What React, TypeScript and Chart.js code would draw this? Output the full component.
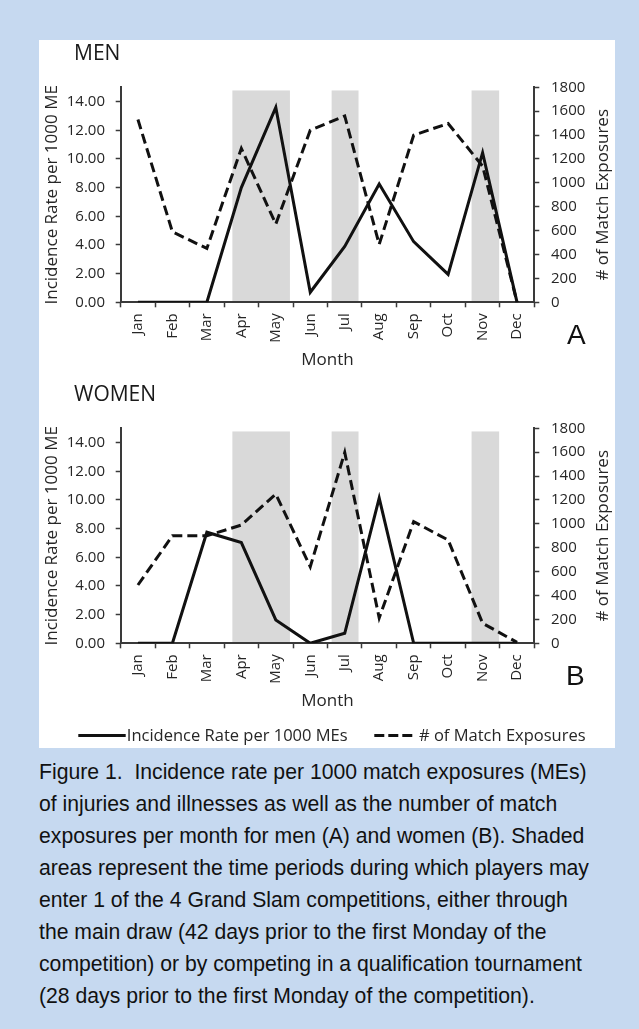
import React, { useEffect, useRef } from 'react';
import { Chart, registerables } from 'chart.js';

Chart.register(...registerables);

// ---------- data ----------
const MONTHS = ['Jan', 'Feb', 'Mar', 'Apr', 'May', 'Jun', 'Jul', 'Aug', 'Sep', 'Oct', 'Nov', 'Dec'];
const MEN_RATE = [0, 0, 0, 8.0, 13.6, 0.7, 3.9, 8.26, 4.23, 1.95, 10.44, 0];
const MEN_EXPOSURES = [1530, 590, 451, 1288, 655, 1441, 1560, 485, 1399, 1497, 1140, 0];
const WOMEN_RATE = [0, 0, 7.75, 7.03, 1.63, 0, 0.7, 10.13, 0, 0, 0, 0];
const WOMEN_EXPOSURES = [488, 900, 900, 990, 1249, 641, 1598, 212, 1018, 865, 168, 8];
const RATE_TICKS = [0, 2, 4, 6, 8, 10, 12, 14];
const EXPOSURE_TICKS = [0, 200, 400, 600, 800, 1000, 1200, 1400, 1600, 1800];
const RATE_MAX = 15;
const EXPOSURE_MAX = 1800;
// Grand Slam entry windows, in month-index units
const SHADE_START = [2.74, 5.62, 9.68];
const SHADE_END = [4.41, 6.4, 10.48];
const SHADE_TOP = 14.78;
const SERIES_LABELS = ['Incidence Rate per 1000 MEs', '# of Match Exposures'];
const LEFT_TITLE = 'Incidence Rate per 1000 ME';
const RIGHT_TITLE = '# of Match Exposures';
const X_TITLE = 'Month';

// ---------- style ----------
const FONT = "'Open Sans', 'DejaVu Sans', sans-serif";
const INK = '#262626';
const AXIS = '#3a3a3a';
const LINE = '#111111';
const SHADE = '#d9d9d9';
const BG = '#c6d9f0';

const shadePlugin = {
  id: 'shade',
  beforeDraw(chart: any) {
    const { ctx, scales } = chart;
    const x = scales.x;
    const y = scales.y;
    if (!x || !y) return;
    ctx.save();
    ctx.fillStyle = SHADE;
    const top = y.getPixelForValue(SHADE_TOP);
    const bottom = y.getPixelForValue(0);
    for (let i = 0; i < SHADE_START.length; i++) {
      const x0 = x.getPixelForValue(SHADE_START[i]);
      const x1 = x.getPixelForValue(SHADE_END[i]);
      ctx.fillRect(x0, top, x1 - x0, bottom - top);
    }
    ctx.restore();
  },
};

const rightTitlePlugin = {
  id: 'rightTitle',
  afterDraw(chart: any) {
    const { ctx, chartArea } = chart;
    ctx.save();
    ctx.translate(564.3, (chartArea.top + chartArea.bottom) / 2);
    ctx.rotate(-Math.PI / 2);
    ctx.fillStyle = INK;
    ctx.font = `17px ${FONT}`;
    ctx.textAlign = 'center';
    ctx.textBaseline = 'middle';
    ctx.fillText(RIGHT_TITLE, 0, 0);
    ctx.restore();
  },
};

const legendPlugin = {
  id: 'customLegend',
  afterDraw(chart: any) {
    const { ctx } = chart;
    const items = [
      { x0: 39.3, x1: 86.7, tx: 87.8 },
      { x0: 335.3, x1: 373.7, tx: 380.0 },
    ];
    const y = 354.5;
    ctx.save();
    chart.data.datasets.forEach((ds: any, i: number) => {
      const it = items[i];
      ctx.beginPath();
      ctx.strokeStyle = ds.borderColor;
      ctx.lineWidth = 3;
      ctx.setLineDash(ds.borderDash ? [10, 4] : []);
      ctx.moveTo(it.x0, y);
      ctx.lineTo(it.x1, y);
      ctx.stroke();
      ctx.setLineDash([]);
      ctx.fillStyle = INK;
      ctx.font = `16.5px ${FONT}`;
      ctx.textAlign = 'left';
      ctx.textBaseline = 'middle';
      ctx.fillText(ds.label, it.tx, y + 0.5);
    });
    ctx.restore();
  },
};

function makeConfig(rate: number[], exposures: number[], withLegend: boolean): any {
  const tickFont = { family: FONT, size: 15 };
  return {
    type: 'line',
    data: {
      labels: MONTHS,
      datasets: [
        {
          label: SERIES_LABELS[0],
          data: rate,
          yAxisID: 'y',
          borderColor: LINE,
          borderWidth: 3,
          pointRadius: 0,
          tension: 0,
          fill: false,
        },
        {
          label: SERIES_LABELS[1],
          data: exposures,
          yAxisID: 'y1',
          borderColor: LINE,
          borderWidth: 3,
          borderDash: [10, 5],
          pointRadius: 0,
          tension: 0,
          fill: false,
        },
      ],
    },
    options: {
      animation: false,
      responsive: true,
      maintainAspectRatio: false,
      events: [],
      layout: { padding: { top: 47.3, left: 0, right: 0, bottom: withLegend ? 27 : 0 } },
      plugins: {
        legend: { display: false },
        tooltip: { enabled: false },
        title: { display: false },
      },
      scales: {
        x: {
          type: 'category',
          offset: true,
          grid: {
            display: true,
            offset: true,
            drawOnChartArea: false,
            drawTicks: true,
            tickLength: 5,
            tickColor: AXIS,
            tickWidth: 1.5,
          },
          border: { display: true, color: AXIS, width: 2 },
          ticks: {
            autoSkip: false,
            minRotation: 90,
            maxRotation: 90,
            padding: 6,
            color: INK,
            font: tickFont,
          },
          title: {
            display: true,
            text: X_TITLE,
            color: INK,
            font: { family: FONT, size: 17 },
            padding: { top: 0, bottom: 9.3 },
          },
          afterFit: (s: any) => {
            s.height = 77.7;
          },
        },
        y: {
          type: 'linear',
          position: 'left',
          min: 0,
          max: RATE_MAX,
          afterBuildTicks: (s: any) => {
            s.ticks = RATE_TICKS.map((v) => ({ value: v }));
          },
          grid: {
            display: true,
            drawOnChartArea: false,
            drawTicks: true,
            tickLength: 5,
            tickColor: AXIS,
            tickWidth: 1.5,
          },
          border: { display: true, color: AXIS, width: 2 },
          ticks: {
            padding: 10.7,
            color: INK,
            font: tickFont,
            callback: (v: any) => Number(v).toFixed(2),
          },
          title: {
            display: true,
            text: LEFT_TITLE,
            color: INK,
            font: { family: FONT, size: 17 },
            padding: { top: 2.8, bottom: 0 },
          },
          afterFit: (s: any) => {
            s.width = 81.7;
          },
        },
        y1: {
          type: 'linear',
          position: 'right',
          min: 0,
          max: EXPOSURE_MAX,
          afterBuildTicks: (s: any) => {
            s.ticks = EXPOSURE_TICKS.map((v) => ({ value: v }));
          },
          grid: {
            display: true,
            drawOnChartArea: false,
            drawTicks: true,
            tickLength: 5,
            tickColor: AXIS,
            tickWidth: 1.5,
          },
          border: { display: true, color: AXIS, width: 2 },
          ticks: {
            padding: 11.7,
            color: INK,
            font: tickFont,
            callback: (v: any) => String(v),
          },
          afterFit: (s: any) => {
            s.width = 80.7;
          },
        },
      },
    },
    plugins: withLegend ? [shadePlugin, rightTitlePlugin, legendPlugin] : [shadePlugin, rightTitlePlugin],
  };
}

function ChartPanel(props: { rate: number[]; exposures: number[]; withLegend: boolean; top: number; height: number }) {
  const ref = useRef<HTMLCanvasElement | null>(null);
  useEffect(() => {
    if (!ref.current) return;
    const chart = new Chart(ref.current, makeConfig(props.rate, props.exposures, props.withLegend));
    return () => chart.destroy();
  }, []);
  return (
    <div style={{ position: 'absolute', left: 39, top: props.top, width: 576, height: props.height }}>
      <canvas ref={ref} />
    </div>
  );
}

const titleStyle: React.CSSProperties = {
  position: 'absolute',
  fontFamily: FONT,
  fontSize: 21,
  lineHeight: '21px',
  color: '#1a1a1a',
  whiteSpace: 'nowrap',
};

const letterStyle: React.CSSProperties = {
  position: 'absolute',
  fontFamily: "'Liberation Sans', Arial, sans-serif",
  fontSize: 28,
  lineHeight: '28px',
  color: '#111',
};

const CAPTION = [
  'Figure 1.  Incidence rate per 1000 match exposures (MEs)',
  'of injuries and illnesses as well as the number of match',
  'exposures per month for men (A) and women (B). Shaded',
  'areas represent the time periods during which players may',
  'enter 1 of the 4 Grand Slam competitions, either through',
  'the main draw (42 days prior to the first Monday of the',
  'competition) or by competing in a qualification tournament',
  '(28 days prior to the first Monday of the competition).',
];

export default function App() {
  return (
    <div
      style={{
        position: 'absolute',
        left: 0,
        top: 0,
        width: 639,
        height: 1029,
        background: BG,
        overflow: 'hidden',
      }}
    >
      <div style={{ position: 'absolute', left: 39, top: 40, width: 576, height: 708, background: '#ffffff' }} />
      <ChartPanel rate={MEN_RATE} exposures={MEN_EXPOSURES} withLegend={false} top={40} height={340} />
      <ChartPanel rate={WOMEN_RATE} exposures={WOMEN_EXPOSURES} withLegend={true} top={381} height={367} />
      <div style={{ ...titleStyle, left: 74, top: 42.4 }}>MEN</div>
      <div style={{ ...titleStyle, left: 74, top: 383.4 }}>WOMEN</div>
      <div style={{ ...letterStyle, left: 567, top: 321.3 }}>A</div>
      <div style={{ ...letterStyle, left: 566, top: 662.3 }}>B</div>
      <div
        style={{
          position: 'absolute',
          left: 39,
          top: 755.7,
          fontFamily: "'Liberation Sans', Arial, sans-serif",
          fontSize: 21.2,
          lineHeight: '32px',
          color: '#111',
          whiteSpace: 'pre',
        }}
      >
        {CAPTION.map((line, i) => (
          <div key={i}>{line}</div>
        ))}
      </div>
    </div>
  );
}
